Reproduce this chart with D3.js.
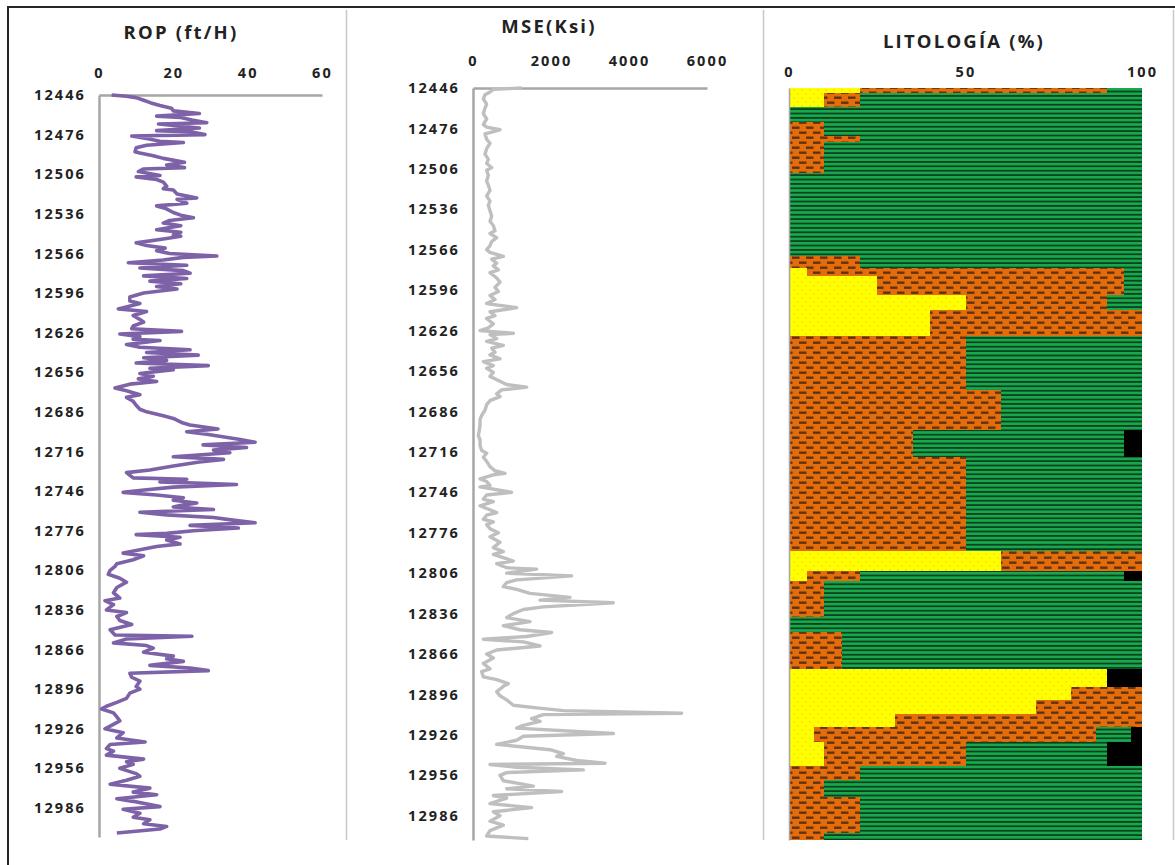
<!DOCTYPE html>
<html>
<head>
<meta charset="utf-8">
<script src="https://cdn.jsdelivr.net/npm/d3@7"></script>
<style>
  html, body { margin: 0; padding: 0; background: #ffffff; }
  svg { display: block; }
  .lbl { font-family: "Open Sans", "DejaVu Sans", sans-serif; font-weight: 700; fill: #222; }
</style>
</head>
<body>
<svg id="chart" width="1175" height="865"></svg>
<script>
// ---------- Data ----------
const depthTicks = [12446, 12476, 12506, 12536, 12566, 12596, 12626, 12656, 12686, 12716,
                    12746, 12776, 12806, 12836, 12866, 12896, 12926, 12956, 12986];
const ropTicks = [0, 20, 40, 60];
const mseTicks = [0, 2000, 4000, 6000];
const litTicks = [0, 50, 100];

// ROP (ft/H) versus depth (ft)
const ropDepth = [12446,12447,12448,12450,12452,12454,12456,12458,12460,12462,12463,12465,12467,12468,12470,12471,12473,12474,12476,12477,
  12479,12481,12482,12484,12486,12489,12490,12492,12494,12497,12499,12501,12502,12504,12507,12508,12510,12512,12515,12517,
  12518,12521,12524,12525,12528,12530,12532,12535,12537,12539,12541,12543,12545,12548,12550,12552,12553,12555,12558,12560,
  12562,12564,12566,12568,12569,12571,12573,12575,12577,12579,12581,12583,12585,12587,12589,12591,12593,12596,12599,12602,
  12604,12608,12610,12613,12616,12618,12621,12623,12625,12627,12629,12631,12632,12635,12637,12639,12641,12643,12645,12647,
  12649,12651,12653,12654,12657,12659,12661,12663,12665,12668,12670,12673,12675,12678,12681,12684,12686,12689,12691,12694,
  12696,12699,12701,12703,12707,12709,12711,12713,12715,12717,12720,12722,12724,12727,12730,12732,12736,12737,12739,12741,
  12743,12745,12747,12749,12751,12753,12755,12757,12758,12760,12762,12764,12766,12768,12770,12772,12774,12776,12778,12779,
  12781,12783,12786,12788,12791,12793,12795,12798,12801,12803,12806,12809,12812,12815,12819,12823,12827,12829,12832,12836,
  12838,12841,12844,12847,12851,12855,12856,12858,12861,12863,12865,12868,12871,12873,12875,12878,12880,12882,12884,12887,
  12890,12894,12896,12899,12903,12906,12909,12911,12914,12917,12920,12924,12926,12929,12933,12936,12938,12941,12943,12946,
  12949,12951,12953,12956,12960,12962,12965,12968,12971,12974,12976,12979,12981,12985,12987,12990,12993,12995,12998,13000,
  13002,13005];
const ropValue = [3.4,7.4,10,12,14,16.4,19.5,20,27,15.5,22,25,29,16,23.6,27,15.5,25,28.5,8.8,
  12.8,16.4,22.7,12.8,10,9.7,11,14.6,17.3,23,18.2,23,12,10.6,16.4,10,15.5,17.3,18.2,17.3,
  20,21,26.3,21,23.6,15.5,18,20,22,25.4,19,17.3,22,15.5,22,20,22,17.3,10,12.8,
  17.8,15.5,19,31.7,22.7,17.3,7.9,23.6,11,22.7,24.5,12,23.6,13.7,22,15.5,21,12,8.3,8.3,
  11,5.2,12.8,9.2,11,12,9.2,8.8,22.2,5.6,11,9.2,16.4,7.4,11,24.5,12.8,26.7,12,18.2,
  10,29.4,13.7,20,11,14.6,10.6,15.5,8.3,4.3,7.4,11,7.4,9.2,10,11,12.8,17.3,20,22.2,
  24.5,32,23.6,29,38,42,28,39.7,30.8,35.2,20,33.5,27,20,13.7,7.4,9.2,23.6,16.4,37,
  20,12.8,6.5,15.5,22.7,20,26.3,21.8,20,30.8,11,18.2,30.8,36,42,24.5,37.5,25.4,18.2,10,
  21.8,18.2,21.8,15.5,10,6.5,12,9.2,4.8,4.3,3,2.5,5.6,7.4,4.8,3.9,5.6,1.6,3.9,2,
  7.4,4.8,5.6,8.8,3,4.3,25,7.4,3.9,12.8,14.6,12,20,18.2,22.7,13.7,24.5,29.4,8.3,8.8,
  11,10,11,8.3,7.4,4.8,2,0.7,3.9,4.8,5.6,3,1.6,6.5,4.8,12.4,3,2,3.9,2,
  12,7.4,9.2,5.6,10,11,7.4,3,13.7,9.2,15.5,4.8,9.2,16.4,6.5,11,9.2,13.7,12,18.2,
  16.4,4.8];

// MSE (Ksi) versus depth (ft)
const mseDepth = [12446,12447,12449,12451,12454,12458,12461,12465,12469,12473,12475,12477,12480,12484,12487,12491,12495,12499,12502,12505,
  12507,12511,12515,12518,12522,12526,12530,12533,12537,12541,12545,12548,12552,12554,12557,12560,12563,12566,12568,12571,
  12573,12576,12578,12581,12583,12587,12590,12594,12597,12600,12603,12606,12609,12612,12615,12617,12621,12624,12626,12628,
  12629,12632,12634,12637,12639,12642,12644,12647,12649,12652,12654,12657,12660,12663,12666,12668,12670,12673,12675,12678,
  12681,12685,12689,12692,12696,12700,12704,12707,12711,12715,12717,12720,12723,12727,12730,12732,12733,12736,12738,12741,
  12742,12746,12748,12751,12753,12756,12758,12761,12763,12766,12768,12770,12773,12776,12779,12783,12787,12790,12792,12797,
  12799,12802,12803,12806,12808,12811,12813,12816,12818,12821,12824,12826,12828,12831,12833,12836,12839,12842,12845,12848,
  12850,12853,12855,12857,12860,12863,12866,12869,12873,12877,12879,12883,12885,12888,12890,12894,12897,12900,12904,12906,
  12908,12910,12911,12914,12916,12919,12921,12925,12927,12930,12933,12935,12937,12940,12942,12945,12947,12948,12950,12952,
  12954,12956,12960,12964,12966,12968,12971,12973,12977,12980,12983,12986,12990,12993,12997,13001,13003];
const mseValue = [1248,521,436,308,265,350,308,265,350,265,350,692,308,350,436,350,308,393,350,479,
  350,393,350,393,436,350,436,393,436,479,436,521,564,436,607,479,436,350,436,778,
  479,607,521,650,436,607,692,564,650,436,564,350,1120,436,564,350,521,393,180,1034,
  436,607,350,778,479,564,436,692,265,521,350,521,436,650,863,1376,735,607,692,436,
  350,308,222,180,180,162,137,180,180,222,350,265,350,436,564,820,521,180,350,436,
  180,991,350,265,521,180,350,607,350,265,521,350,436,650,436,692,521,778,521,1034,
  607,863,1632,863,2530,1120,863,778,1120,1462,2487,1718,3598,1803,1291,1034,863,1462,778,1205,
  2017,1376,265,1291,1718,607,350,521,265,436,222,265,607,906,778,607,692,863,1034,1632,
  2316,5350,1803,1504,1718,1291,1120,3598,1291,1120,607,1291,1974,2316,2145,2658,3385,436,1120,2829,
  863,692,778,1547,863,2274,521,863,436,1504,521,692,436,778,436,350,1419];

// Lithology intervals (ft) and percentages
const litTop  = [12446,12450,12460,12471,12482,12486,12509,12571,12580,12586,12600,12611,12631,12671,12701,12721,
                 12791,12806,12813,12840,12851,12879,12892,12902,12912,12922,12933,12951,12961,12974,13001];
const litBase = [12450,12460,12471,12482,12486,12509,12571,12580,12586,12600,12611,12631,12671,12701,12721,12791,
                 12806,12813,12840,12851,12879,12892,12902,12912,12922,12933,12951,12961,12974,13001,13006];
const litArenisca = [20,10,0,0,0,0,0,0,5,25,50,40,0,0,0,0,60,5,0,0,0,90,80,70,30,7,10,0,0,0,0];
const litArcilla  = [70,10,0,10,20,10,0,20,90,70,40,60,50,60,35,50,40,15,10,0,15,0,20,30,70,80,40,20,10,20,10];
const litLutita   = [10,80,100,90,80,90,100,80,5,5,10,0,50,40,60,50,0,75,90,100,85,0,0,0,0,10,40,80,90,80,90];
const litCarbon   = [0,0,0,0,0,0,0,0,0,0,0,0,0,0,5,0,0,5,0,0,0,10,0,0,0,3,10,0,0,0,0];

// ---------- Drawing ----------
const svg = d3.select("#chart");
const axisGrey = "#a6a6a6";

// frame and panel separators
svg.append("line").attr("x1", 8).attr("x2", 1175).attr("y1", 7).attr("y2", 7)
  .attr("stroke", "#262626").attr("stroke-width", 2);
svg.append("line").attr("x1", 8).attr("x2", 8).attr("y1", 6).attr("y2", 865)
  .attr("stroke", "#262626").attr("stroke-width", 2);
[346.5, 763.5, 1173.5].forEach(x => {
  svg.append("line").attr("x1", x).attr("x2", x).attr("y1", 10).attr("y2", 840)
    .attr("stroke", "#c8c8c8").attr("stroke-width", 1.5);
});

function styleAxis(g) {
  g.selectAll(".tick line").remove();
  g.select(".domain").attr("stroke", axisGrey).attr("stroke-width", 2.5);
  g.selectAll("text").attr("class", "lbl").attr("fill", "#222")
    .style("font-size", "14.5px").style("letter-spacing", "2.1px");
}

function title(text, x, y, size) {
  svg.append("text").attr("class", "lbl").attr("x", x).attr("y", y)
    .attr("text-anchor", "middle").attr("dominant-baseline", "central")
    .style("font-size", size + "px").style("letter-spacing", "2.2px").text(text);
}

// ---- ROP panel ----
const xRop = d3.scaleLinear().domain([0, 60]).range([99, 322]);
const yRop = d3.scaleLinear().domain([12446, 13008]).range([95, 837]);

svg.append("g").attr("transform", `translate(0,${yRop(12446)})`)
  .call(d3.axisTop(xRop).tickValues(ropTicks).tickSize(0).tickPadding(17))
  .call(styleAxis);
svg.append("g").attr("transform", `translate(${xRop(0)},0)`)
  .call(d3.axisLeft(yRop).tickValues(depthTicks).tickSize(0).tickPadding(13).tickFormat(d3.format("d")))
  .call(styleAxis);

const ropData = ropDepth.map((d, i) => ({ d, v: ropValue[i] }));
svg.append("path").datum(ropData)
  .attr("fill", "none").attr("stroke", "#7e62a8").attr("stroke-width", 3.6)
  .attr("stroke-linejoin", "round")
  .attr("d", d3.line().x(p => xRop(p.v)).y(p => yRop(p.d)));

title("ROP (ft/H)", 181, 31, 18.5);

// ---- MSE panel ----
const xMse = d3.scaleLinear().domain([0, 6000]).range([473, 707]);
const yMse = d3.scaleLinear().domain([12446, 13004]).range([88, 840]);

svg.append("g").attr("transform", `translate(0,${yMse(12446)})`)
  .call(d3.axisTop(xMse).tickValues(mseTicks).tickSize(0).tickPadding(22).tickFormat(d3.format("d")))
  .call(styleAxis);
svg.append("g").attr("transform", `translate(${xMse(0)},0)`)
  .call(d3.axisLeft(yMse).tickValues(depthTicks).tickSize(0).tickPadding(13).tickFormat(d3.format("d")))
  .call(styleAxis);

const mseData = mseDepth.map((d, i) => ({ d, v: mseValue[i] }));
svg.append("path").datum(mseData)
  .attr("fill", "none").attr("stroke", "#bfbfbf").attr("stroke-width", 3.4)
  .attr("stroke-linejoin", "round")
  .attr("d", d3.line().x(p => xMse(p.v)).y(p => yMse(p.d)));

title("MSE(Ksi)", 549, 25, 18.5);

// ---- Lithology panel ----
const xLit = d3.scaleLinear().domain([0, 100]).range([789, 1142]);
const yLit = d3.scaleLinear().domain([12446, 13006]).range([88, 840]);

const defs = svg.append("defs");
// sandstone: yellow with fine dots
const pS = defs.append("pattern").attr("id", "pat-arenisca").attr("patternUnits", "userSpaceOnUse")
  .attr("width", 8).attr("height", 8);
pS.append("rect").attr("width", 8).attr("height", 8).attr("fill", "#ffff00");
pS.append("rect").attr("x", 1.5).attr("y", 1.5).attr("width", 1).attr("height", 1).attr("fill", "#f0a800");
pS.append("rect").attr("x", 5.5).attr("y", 5.5).attr("width", 1).attr("height", 1).attr("fill", "#f0a800");
// claystone: orange with staggered dashes
const pC = defs.append("pattern").attr("id", "pat-arcilla").attr("patternUnits", "userSpaceOnUse")
  .attr("width", 14).attr("height", 10);
pC.append("rect").attr("width", 14).attr("height", 10).attr("fill", "#e46c0a");
pC.append("rect").attr("x", 1).attr("y", 1.5).attr("width", 7.5).attr("height", 2.4).attr("fill", "#5e3410");
pC.append("rect").attr("x", 8).attr("y", 6.5).attr("width", 7.5).attr("height", 2.4).attr("fill", "#5e3410");
pC.append("rect").attr("x", -6).attr("y", 6.5).attr("width", 7.5).attr("height", 2.4).attr("fill", "#5e3410");
// shale: green with dark horizontal lines
const pL = defs.append("pattern").attr("id", "pat-lutita").attr("patternUnits", "userSpaceOnUse")
  .attr("width", 8).attr("height", 4.4);
pL.append("rect").attr("width", 8).attr("height", 4.4).attr("fill", "#17a94b");
pL.append("rect").attr("y", 2.6).attr("width", 8).attr("height", 1.8).attr("fill", "#0a4221");

const litKeys = ["arenisca", "arcilla", "lutita", "carbon"];
const litFill = { arenisca: "url(#pat-arenisca)", arcilla: "url(#pat-arcilla)", lutita: "url(#pat-lutita)", carbon: "#000000" };
const litRows = litTop.map((t, i) => ({
  top: t, base: litBase[i],
  arenisca: litArenisca[i], arcilla: litArcilla[i], lutita: litLutita[i], carbon: litCarbon[i]
}));
const stacked = d3.stack().keys(litKeys)(litRows);

const litG = svg.append("g");
stacked.forEach(layer => {
  litG.selectAll(null).data(layer).join("rect")
    .attr("x", s => xLit(s[0]))
    .attr("width", s => Math.max(0, xLit(s[1]) - xLit(s[0])))
    .attr("y", s => yLit(s.data.top))
    .attr("height", s => yLit(s.data.base) - yLit(s.data.top))
    .attr("fill", litFill[layer.key])
    .attr("shape-rendering", "crispEdges");
});

svg.append("g").attr("transform", `translate(0,${yLit(12446)})`)
  .call(d3.axisTop(xLit).tickValues(litTicks).tickSize(0).tickPadding(11))
  .call(g => { styleAxis(g); g.select(".domain").remove(); });
svg.append("g").attr("transform", `translate(${xLit(0)},0)`)
  .call(d3.axisLeft(yLit).tickValues([]).tickSize(0))
  .call(g => g.select(".domain").attr("stroke", axisGrey).attr("stroke-width", 1.5));

title("LITOLOGÍA (%)", 964, 40, 18.5);
</script>
</body>
</html>
